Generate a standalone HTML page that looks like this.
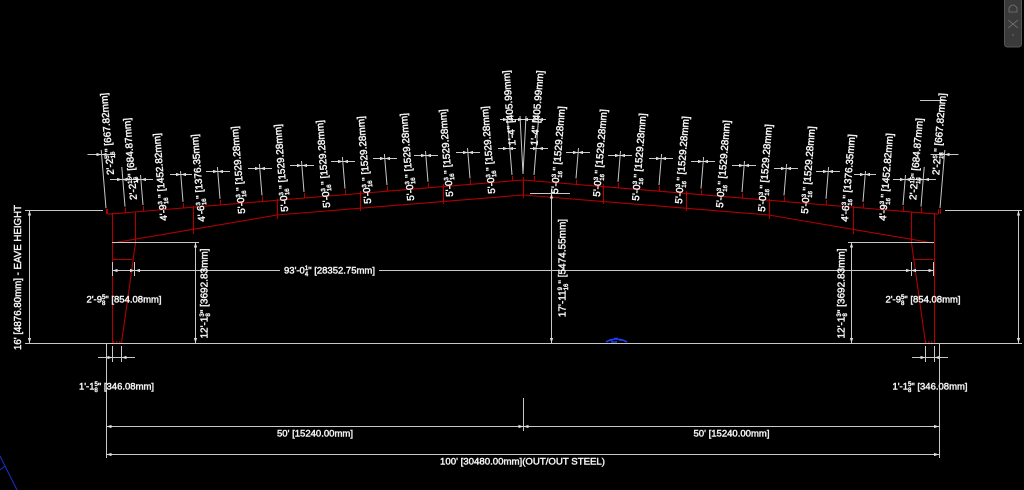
<!DOCTYPE html>
<html>
<head>
<meta charset="utf-8">
<style>
html,body{margin:0;padding:0;background:#000;overflow:hidden;}
svg{display:block;}
text{font-family:"Liberation Sans",Arial,sans-serif;fill:#f4f4f4;stroke:#f4f4f4;stroke-width:0.45;}
</style>
</head>
<body>
<svg width="1024" height="490" viewBox="0 0 1024 490" xmlns="http://www.w3.org/2000/svg">
<rect x="0" y="0" width="1024" height="490" fill="#000"/>

<!-- red steel -->
<path fill="none" stroke="#b00000" stroke-width="1.1" d="
M108 214.2 L523 180 L938 214.2
M277 215 L523 195 L769 215
M113 243 L277 215
M769 215 L933 243
M193.5 206 V234 M277.5 199 V219 M360.5 191 V211 M443.5 184 V204 M523.5 177 V198
M603.5 184 V204 M686.5 191 V211 M769.5 199 V219 M853.5 206 V234
M112.5 213 V343 M135.5 212 V243 L121.5 343 M113 259.5 H132 M107.5 209 V214
M934.5 213 V343 M911.5 212 V243 L925.5 343 M914 259.5 H933 M938.5 209 V214
M106.5 209 V214 M125.5 207.5 V212.5 M143.5 206 V211 M183.5 203 V208 M220.5 200 V205
M262.5 196.5 V201.5 M304.5 193 V198 M345.5 189.5 V194.5 M387.5 186 V191 M428.5 183 V188
M470.5 179.5 V184.5 M512.5 176 V181
M534.5 176 V181 M576.5 179.5 V184.5 M618.5 183 V188 M659.5 186 V191 M701.5 189.5 V194.5
M742.5 193 V198 M784.5 196.5 V201.5 M826.5 200 V205 M863.5 203 V208 M903.5 206 V211
M921.5 207.5 V212.5 M940.5 209 V214
"/>
<path fill="none" stroke="#c00000" stroke-width="1.2" stroke-dasharray="1.5 1.5" d="M113 342 H121 M925 342 H933"/>

<!-- white dimension lines -->
<path fill="none" stroke="#c8c8c8" stroke-width="1" d="
M25 343.5 H1022
M25 210.5 H103 M945 210.5 H1022
M29.5 210 V343 M1018.5 210 V343
M112 242.5 H199 M195.5 242 V343
M848 242.5 H934 M851.5 242 V343
M551.5 193 V343 M530 193.5 H570
M112 270.5 H280 M379 270.5 H934
M112.5 262 V276 M134.5 262 V276 M911.5 262 V276 M933.5 262 V276
M106.5 343 V458 M939.5 343 V458
M112.5 346 V362 M121.5 346 V362 M98 357.5 H135
M925.5 346 V362 M934.5 346 V362 M912 357.5 H948
M106 426.5 H939 M523.5 398 V431
M106 454.5 H939
M920 100.5 H947
M106 208.2 L101.2 150
M125 206.6 L121.8 167
M143 205.1 L140.5 175
M183 201.8 L180.5 171
M220 198.8 L217.4 167
M262 195.4 L259.4 164
M304 191.9 L301.5 161
M345 188.6 L342.4 157
M387 185.1 L384.4 154
M428 181.8 L425.5 151
M470 178.3 L467.5 148
M512 174.9 L507.2 116
M523 174 L520 116
M523 174 L526 116
M534 174.9 L538.8 116
M576 178.3 L578.5 148
M618 181.8 L620.5 151
M659 185.1 L661.6 154
M701 188.6 L703.6 157
M742 191.9 L744.5 161
M784 195.4 L786.6 164
M826 198.8 L828.6 167
M863 201.8 L865.5 171
M903 205.1 L905.5 175
M921 206.6 L924.2 167
M940 208.2 L944.8 150
M87.5 154.5 H115.5
M110 179.5 H153
M170 174.5 H192
M206 171.5 H230
M248 168.5 H272
M290 165.5 H314
M331 161.5 H355
M373 158.5 H397
M414 155.5 H438
M456 152.5 H480
M498 148.5 H516
M500 119.5 H546
M530 148.5 H548
M566 152.5 H590
M608 155.5 H632
M649 158.5 H673
M691 161.5 H715
M732 165.5 H756
M774 168.5 H798
M816 171.5 H840
M854 174.5 H876
M893 179.5 H936
M930.5 154.5 H958.5
"/>

<!-- arrowheads -->
<path fill="#e0e0e0" stroke="none" d="
M101.5 154.5 l-5 -1.6 v3.2z M101.5 154.5 l5 -1.6 v3.2z
M122 179.5 l-5 -1.6 v3.2z M122 179.5 l5 -1.6 v3.2z
M141 179.5 l-5 -1.6 v3.2z M141 179.5 l5 -1.6 v3.2z
M181 174.5 l-5 -1.6 v3.2z M181 174.5 l5 -1.6 v3.2z
M218 171.5 l-5 -1.6 v3.2z M218 171.5 l5 -1.6 v3.2z
M260 168.5 l-5 -1.6 v3.2z M260 168.5 l5 -1.6 v3.2z
M302 165.5 l-5 -1.6 v3.2z M302 165.5 l5 -1.6 v3.2z
M343 161.5 l-5 -1.6 v3.2z M343 161.5 l5 -1.6 v3.2z
M385 158.5 l-5 -1.6 v3.2z M385 158.5 l5 -1.6 v3.2z
M426 155.5 l-5 -1.6 v3.2z M426 155.5 l5 -1.6 v3.2z
M468 152.5 l-5 -1.6 v3.2z M468 152.5 l5 -1.6 v3.2z
M508 148.5 l-5 -1.6 v3.2z M508 148.5 l5 -1.6 v3.2z
M508 119.5 l-5 -1.6 v3.2z M508 119.5 l5 -1.6 v3.2z
M523 119.5 l-5 -1.6 v3.2z M523 119.5 l5 -1.6 v3.2z
M538 119.5 l-5 -1.6 v3.2z M538 119.5 l5 -1.6 v3.2z
M538 148.5 l-5 -1.6 v3.2z M538 148.5 l5 -1.6 v3.2z
M578 152.5 l-5 -1.6 v3.2z M578 152.5 l5 -1.6 v3.2z
M620 155.5 l-5 -1.6 v3.2z M620 155.5 l5 -1.6 v3.2z
M661 158.5 l-5 -1.6 v3.2z M661 158.5 l5 -1.6 v3.2z
M703 161.5 l-5 -1.6 v3.2z M703 161.5 l5 -1.6 v3.2z
M744 165.5 l-5 -1.6 v3.2z M744 165.5 l5 -1.6 v3.2z
M786 168.5 l-5 -1.6 v3.2z M786 168.5 l5 -1.6 v3.2z
M828 171.5 l-5 -1.6 v3.2z M828 171.5 l5 -1.6 v3.2z
M865 174.5 l-5 -1.6 v3.2z M865 174.5 l5 -1.6 v3.2z
M905 179.5 l-5 -1.6 v3.2z M905 179.5 l5 -1.6 v3.2z
M924 179.5 l-5 -1.6 v3.2z M924 179.5 l5 -1.6 v3.2z
M944.5 154.5 l-5 -1.6 v3.2z M944.5 154.5 l5 -1.6 v3.2z
M112.5 357.5 l-5 -1.6 v3.2z M121.5 357.5 l5 -1.6 v3.2z
M925.5 357.5 l-5 -1.6 v3.2z M934.5 357.5 l5 -1.6 v3.2z
M135 270.5 l-5 -1.6 v3.2z M135 270.5 l5 -1.6 v3.2z
M911 270.5 l-5 -1.6 v3.2z M911 270.5 l5 -1.6 v3.2z
M112.5 270.5 l5 -1.6 v3.2z M933.5 270.5 l-5 -1.6 v3.2z
M106.5 426.5 l5 -1.6 v3.2z M939 426.5 l-5 -1.6 v3.2z
M523.5 426.5 l-5 -1.6 v3.2z M523.5 426.5 l5 -1.6 v3.2z
M106.5 454.5 l5 -1.6 v3.2z M939 454.5 l-5 -1.6 v3.2z
M29.5 210.5 l-1.6 5 h3.2z M29.5 343 l-1.6 -5 h3.2z
M1018.5 210.5 l-1.6 5 h3.2z M1018.5 343 l-1.6 -5 h3.2z
M195.5 242.5 l-1.6 5 h3.2z M195.5 343 l-1.6 -5 h3.2z
M851.5 242.5 l-1.6 5 h3.2z M851.5 343 l-1.6 -5 h3.2z
M551.5 193.5 l-1.6 5 h3.2z M551.5 343 l-1.6 -5 h3.2z
"/>

<!-- blue marks -->
<path fill="none" stroke="#2040ff" stroke-width="1.6" d="M606 342 Q616 336 627 342 M609 340 h4 M614 338.5 h4 M619 340 h4 M611 342 h6"/>
<path fill="none" stroke="#1a2fd0" stroke-width="1" d="M0 456 L17 490 M0 470 L5 466"/>

<!-- toolbar -->
<rect x="1004.5" y="-3" width="17" height="50" rx="3" fill="#3a3a3a" stroke="#555" stroke-width="1"/>
<path fill="none" stroke="#777" stroke-width="0.8" d="M1009 8 q4 -6 8 0 v4 h-8z M1008 20 l10 8 M1018 20 l-10 8 M1013 34 v2"/>

<!-- TOP LABELS LEFT -->
<g font-size="10">
<text transform="translate(107,134) rotate(-94.7)" x="0" y="3.5" text-anchor="middle">2'-2<tspan font-size="6" dy="-3.5">5</tspan><tspan font-size="6" dx="-3.3" dy="6">16</tspan><tspan dy="-2.5">" [667.82mm]</tspan></text>
<text transform="translate(130,159) rotate(-94.7)" x="0" y="3.5" text-anchor="middle">2'-2<tspan font-size="6" dy="-3.5">15</tspan><tspan font-size="6" dx="-6.7" dy="6">16</tspan><tspan dy="-2.5">" [684.87mm]</tspan></text>
<text transform="translate(160,177) rotate(-94.7)" x="0" y="3.5" text-anchor="middle">4'-9<tspan font-size="6" dy="-3.5">3</tspan><tspan font-size="6" dx="-3.3" dy="6">16</tspan><tspan dy="-2.5">" [1452.82mm]</tspan></text>
<text transform="translate(198,178) rotate(-94.7)" x="0" y="3.5" text-anchor="middle">4'-6<tspan font-size="6" dy="-3.5">3</tspan><tspan font-size="6" dx="-3.3" dy="6">16</tspan><tspan dy="-2.5">" [1376.35mm]</tspan></text>
<text transform="translate(238,170) rotate(-94.7)" x="0" y="3.5" text-anchor="middle">5'-0<tspan font-size="6" dy="-3.5">3</tspan><tspan font-size="6" dx="-3.3" dy="6">16</tspan><tspan dy="-2.5">" [1529.28mm]</tspan></text>
<text transform="translate(281,168) rotate(-94.7)" x="0" y="3.5" text-anchor="middle">5'-0<tspan font-size="6" dy="-3.5">3</tspan><tspan font-size="6" dx="-3.3" dy="6">16</tspan><tspan dy="-2.5">" [1529.28mm]</tspan></text>
<text transform="translate(323,164) rotate(-94.7)" x="0" y="3.5" text-anchor="middle">5'-0<tspan font-size="6" dy="-3.5">3</tspan><tspan font-size="6" dx="-3.3" dy="6">16</tspan><tspan dy="-2.5">" [1529.28mm]</tspan></text>
<text transform="translate(364,160) rotate(-94.7)" x="0" y="3.5" text-anchor="middle">5'-0<tspan font-size="6" dy="-3.5">3</tspan><tspan font-size="6" dx="-3.3" dy="6">16</tspan><tspan dy="-2.5">" [1529.28mm]</tspan></text>
<text transform="translate(407,157) rotate(-94.7)" x="0" y="3.5" text-anchor="middle">5'-0<tspan font-size="6" dy="-3.5">3</tspan><tspan font-size="6" dx="-3.3" dy="6">16</tspan><tspan dy="-2.5">" [1529.28mm]</tspan></text>
<text transform="translate(446,153) rotate(-94.7)" x="0" y="3.5" text-anchor="middle">5'-0<tspan font-size="6" dy="-3.5">3</tspan><tspan font-size="6" dx="-3.3" dy="6">16</tspan><tspan dy="-2.5">" [1529.28mm]</tspan></text>
<text transform="translate(488,150) rotate(-94.7)" x="0" y="3.5" text-anchor="middle">5'-0<tspan font-size="6" dy="-3.5">3</tspan><tspan font-size="6" dx="-3.3" dy="6">16</tspan><tspan dy="-2.5">" [1529.28mm]</tspan></text>
<text transform="translate(509,108) rotate(-94.7)" x="0" y="3.5" text-anchor="middle">1'-4" [405.99mm]</text>

<!-- TOP LABELS RIGHT -->
<text transform="translate(537,108) rotate(-85.3)" x="0" y="3.5" text-anchor="middle">1'-4" [405.99mm]</text>
<text transform="translate(558,150) rotate(-85.3)" x="0" y="3.5" text-anchor="middle">5'-0<tspan font-size="6" dy="-3.5">3</tspan><tspan font-size="6" dx="-3.3" dy="6">16</tspan><tspan dy="-2.5">" [1529.28mm]</tspan></text>
<text transform="translate(600,153) rotate(-85.3)" x="0" y="3.5" text-anchor="middle">5'-0<tspan font-size="6" dy="-3.5">3</tspan><tspan font-size="6" dx="-3.3" dy="6">16</tspan><tspan dy="-2.5">" [1529.28mm]</tspan></text>
<text transform="translate(639,157) rotate(-85.3)" x="0" y="3.5" text-anchor="middle">5'-0<tspan font-size="6" dy="-3.5">3</tspan><tspan font-size="6" dx="-3.3" dy="6">16</tspan><tspan dy="-2.5">" [1529.28mm]</tspan></text>
<text transform="translate(682,160) rotate(-85.3)" x="0" y="3.5" text-anchor="middle">5'-0<tspan font-size="6" dy="-3.5">3</tspan><tspan font-size="6" dx="-3.3" dy="6">16</tspan><tspan dy="-2.5">" [1529.28mm]</tspan></text>
<text transform="translate(723,164) rotate(-85.3)" x="0" y="3.5" text-anchor="middle">5'-0<tspan font-size="6" dy="-3.5">3</tspan><tspan font-size="6" dx="-3.3" dy="6">16</tspan><tspan dy="-2.5">" [1529.28mm]</tspan></text>
<text transform="translate(765,168) rotate(-85.3)" x="0" y="3.5" text-anchor="middle">5'-0<tspan font-size="6" dy="-3.5">3</tspan><tspan font-size="6" dx="-3.3" dy="6">16</tspan><tspan dy="-2.5">" [1529.28mm]</tspan></text>
<text transform="translate(808,170) rotate(-85.3)" x="0" y="3.5" text-anchor="middle">5'-0<tspan font-size="6" dy="-3.5">3</tspan><tspan font-size="6" dx="-3.3" dy="6">16</tspan><tspan dy="-2.5">" [1529.28mm]</tspan></text>
<text transform="translate(848,178) rotate(-85.3)" x="0" y="3.5" text-anchor="middle">4'-6<tspan font-size="6" dy="-3.5">3</tspan><tspan font-size="6" dx="-3.3" dy="6">16</tspan><tspan dy="-2.5">" [1376.35mm]</tspan></text>
<text transform="translate(886,177) rotate(-85.3)" x="0" y="3.5" text-anchor="middle">4'-9<tspan font-size="6" dy="-3.5">3</tspan><tspan font-size="6" dx="-3.3" dy="6">16</tspan><tspan dy="-2.5">" [1452.82mm]</tspan></text>
<text transform="translate(916,159) rotate(-85.3)" x="0" y="3.5" text-anchor="middle">2'-2<tspan font-size="6" dy="-3.5">15</tspan><tspan font-size="6" dx="-6.7" dy="6">16</tspan><tspan dy="-2.5">" [684.87mm]</tspan></text>
<text transform="translate(939,134) rotate(-85.3)" x="0" y="3.5" text-anchor="middle">2'-2<tspan font-size="6" dy="-3.5">5</tspan><tspan font-size="6" dx="-3.3" dy="6">16</tspan><tspan dy="-2.5">" [667.82mm]</tspan></text>

<!-- vertical dimension texts -->
<text transform="translate(17.5,277.5) rotate(-90)" x="0" y="3.5" text-anchor="middle" textLength="145" lengthAdjust="spacingAndGlyphs">16' [4876.80mm] - EAVE HEIGHT</text>
<text transform="translate(204,293.5) rotate(-90)" x="0" y="3.5" text-anchor="middle">12'-1<tspan font-size="6" dy="-3.5">3</tspan><tspan font-size="6" dx="-3.3" dy="6">8</tspan><tspan dy="-2.5">" [3692.83mm]</tspan></text>
<text transform="translate(841,293.5) rotate(-90)" x="0" y="3.5" text-anchor="middle">12'-1<tspan font-size="6" dy="-3.5">3</tspan><tspan font-size="6" dx="-3.3" dy="6">8</tspan><tspan dy="-2.5">" [3692.83mm]</tspan></text>
<text transform="translate(562,268) rotate(-90)" x="0" y="3.5" text-anchor="middle">17'-11<tspan font-size="6" dy="-3.5">9</tspan><tspan font-size="6" dx="-3.3" dy="6">16</tspan><tspan dy="-2.5">" [5474.55mm]</tspan></text>
</g>

<!-- horizontal texts -->
<g font-size="9.5">
<text x="329.5" y="273.5" text-anchor="middle">93'-0<tspan font-size="6" dy="-3.5">1</tspan><tspan font-size="6" dx="-3.3" dy="6">4</tspan><tspan dy="-2.5">" [28352.75mm]</tspan></text>
<text x="124" y="302.5" text-anchor="middle">2'-9<tspan font-size="6" dy="-3.5">5</tspan><tspan font-size="6" dx="-3.3" dy="6">8</tspan><tspan dy="-2.5">" [854.08mm]</tspan></text>
<text x="923" y="302.5" text-anchor="middle">2'-9<tspan font-size="6" dy="-3.5">5</tspan><tspan font-size="6" dx="-3.3" dy="6">8</tspan><tspan dy="-2.5">" [854.08mm]</tspan></text>
<text x="116.5" y="389.5" text-anchor="middle">1'-1<tspan font-size="6" dy="-3.5">5</tspan><tspan font-size="6" dx="-3.3" dy="6">8</tspan><tspan dy="-2.5">" [346.08mm]</tspan></text>
<text x="930" y="389.5" text-anchor="middle">1'-1<tspan font-size="6" dy="-3.5">5</tspan><tspan font-size="6" dx="-3.3" dy="6">8</tspan><tspan dy="-2.5">" [346.08mm]</tspan></text>
<text x="315" y="436.5" text-anchor="middle" textLength="76" lengthAdjust="spacingAndGlyphs">50' [15240.00mm]</text>
<text x="731.5" y="436.5" text-anchor="middle" textLength="76" lengthAdjust="spacingAndGlyphs">50' [15240.00mm]</text>
<text x="522.5" y="464.5" text-anchor="middle" textLength="165" lengthAdjust="spacingAndGlyphs">100' [30480.00mm](OUT/OUT STEEL)</text>
</g>
</svg>
</body>
</html>
